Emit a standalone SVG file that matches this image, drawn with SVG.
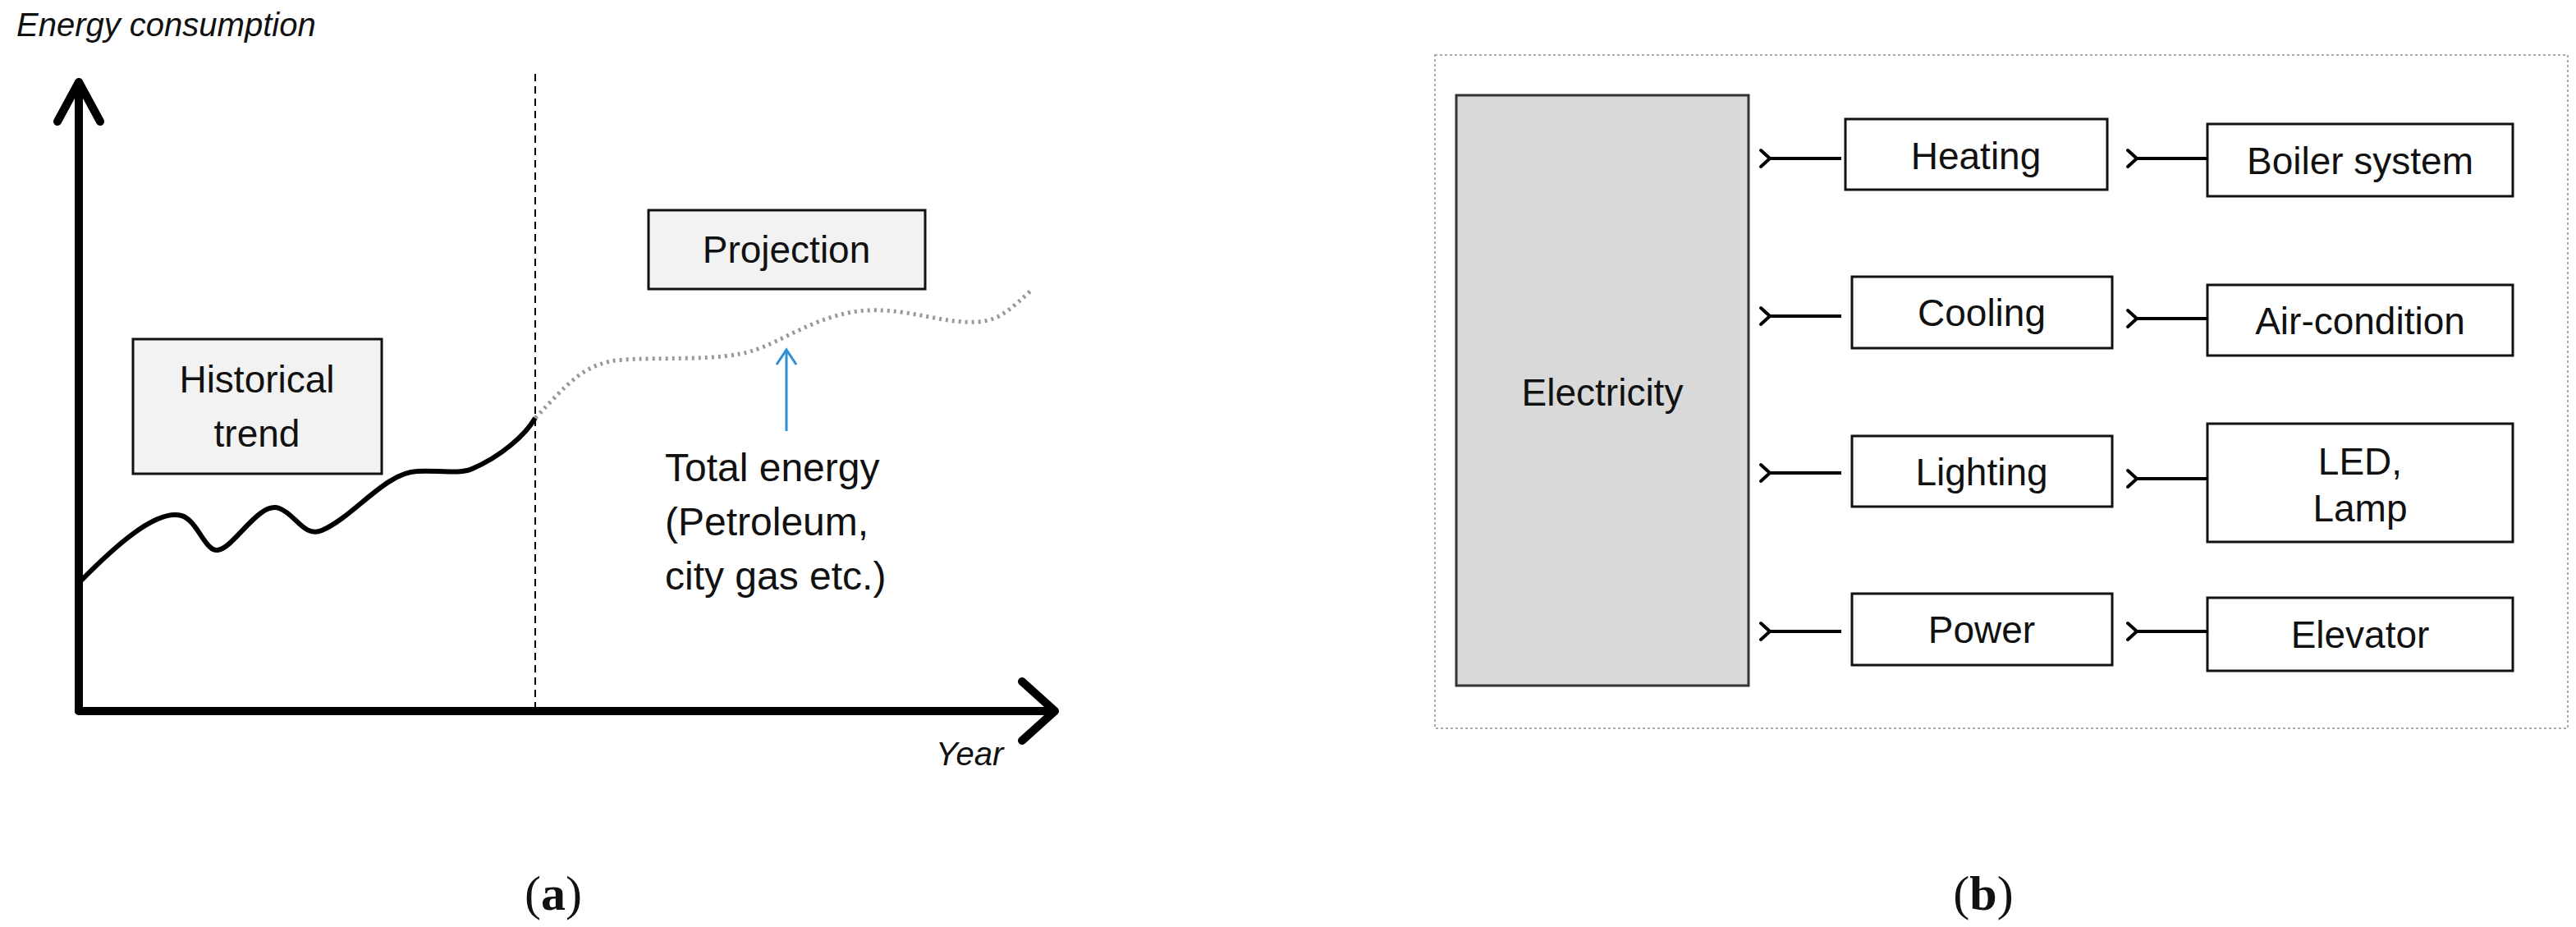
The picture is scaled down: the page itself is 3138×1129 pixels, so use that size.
<svg xmlns="http://www.w3.org/2000/svg" width="3138" height="1129" viewBox="0 0 3138 1129">
<style>
text{font-family:"Liberation Sans",Arial,sans-serif;fill:#111}
.box{fill:#fff;stroke:#111;stroke-width:3}
.gbox{fill:#f2f2f2;stroke:#111;stroke-width:3}
.lbl{font-size:46px;text-anchor:middle;dominant-baseline:central}
.ax{fill:none;stroke:#000;stroke-width:10;stroke-linecap:round;stroke-linejoin:round}
.arr{stroke:#000;stroke-width:4;fill:none}
.cap{font-family:"Liberation Serif",serif;font-size:60px;text-anchor:middle}
</style>
<defs>
<marker id="ah" markerWidth="12" markerHeight="12" refX="1" refY="6" orient="auto" markerUnits="userSpaceOnUse" viewBox="0 0 12 12" overflow="visible">
<path d="M12,-4 L1,6 L12,16" fill="none" stroke="#000" stroke-width="4" stroke-linecap="round"/>
</marker>
</defs>
<rect width="3138" height="1129" fill="#fff"/>
<g id="panel-a">
<text x="20" y="44" font-size="40" font-style="italic">Energy consumption</text>
<line x1="652" y1="90" x2="652" y2="864" stroke="#000" stroke-width="2" stroke-dasharray="9,6"/>
<path class="ax" d="M96,866 V100 M70,148 L96,100 L122,148"/>
<path class="ax" d="M96,866 H1282 M1245,830 L1285,866 L1245,902"/>
<text x="1140" y="932" font-size="40" font-style="italic">Year</text>
<path d="M96,710 C140,665 190,620 221,628 C240,633 250,672 265,670 C285,668 315,610 340,619 C360,626 370,655 392,646 C430,630 470,575 508,574 C530,572 560,578 575,571 C610,556 640,530 652,509" fill="none" stroke="#000" stroke-width="6"/>
<path d="M652,509 C690,470 710,441 760,438 C800,435 880,440 917,427 C950,418 1000,380 1058,378 C1110,376 1150,395 1192,392 C1220,390 1235,372 1257,353" fill="none" stroke="#999" stroke-width="5" stroke-dasharray="3,5"/>
<g id="historical"><rect class="gbox" x="162" y="413" width="303" height="164"/>
<text class="lbl" x="313" y="462" font-size="48">Historical</text><text class="lbl" x="313" y="528" font-size="48">trend</text></g>
<g id="projection"><rect class="gbox" x="790" y="256" width="337" height="96"/>
<text class="lbl" x="958" y="304" font-size="48">Projection</text></g>
<line x1="958" y1="525" x2="958" y2="428" stroke="#2e8fd6" stroke-width="3"/>
<path d="M946,444 L958,426 L970,444" fill="none" stroke="#2e8fd6" stroke-width="3"/>
<text font-size="48" x="810"><tspan x="810" y="586">Total energy</tspan><tspan x="810" y="652">(Petroleum,</tspan><tspan x="810" y="718">city gas etc.)</tspan></text>
<text class="cap" x="674" y="1108">(<tspan font-weight="bold">a</tspan>)</text>
</g>
<g id="panel-b">
<rect x="1748" y="67" width="1380" height="820" fill="none" stroke="#aaa" stroke-width="2" stroke-dasharray="3,3"/>
<g id="electricity"><rect x="1774" y="116" width="356" height="719" fill="#d9d9d9" stroke="#333" stroke-width="3"/>
<text class="lbl" x="1952" y="478" font-size="68">Electricity</text></g>
<g id="heating"><rect class="box" x="2248" y="145" width="319" height="86"/><text class="lbl" x="2407" y="190">Heating</text></g>
<g id="cooling"><rect class="box" x="2256" y="337" width="317" height="87"/><text class="lbl" x="2414" y="381">Cooling</text></g>
<g id="lighting"><rect class="box" x="2256" y="531" width="317" height="86"/><text class="lbl" x="2414" y="575">Lighting</text></g>
<g id="power"><rect class="box" x="2256" y="723" width="317" height="87"/><text class="lbl" x="2414" y="767">Power</text></g>
<g id="boiler"><rect class="box" x="2689" y="151" width="372" height="88"/><text class="lbl" x="2875" y="196">Boiler system</text></g>
<g id="aircon"><rect class="box" x="2689" y="347" width="372" height="86"/><text class="lbl" x="2875" y="391">Air-condition</text></g>
<g id="led"><rect class="box" x="2689" y="516" width="372" height="144"/><text class="lbl" x="2875" y="562">LED,</text><text class="lbl" x="2875" y="619">Lamp</text></g>
<g id="elevator"><rect class="box" x="2689" y="728" width="372" height="89"/><text class="lbl" x="2875" y="773">Elevator</text></g>
<g id="connectors">
<line class="arr" x1="2243" y1="193" x2="2156" y2="193" marker-end="url(#ah)"/>
<line class="arr" x1="2243" y1="385" x2="2156" y2="385" marker-end="url(#ah)"/>
<line class="arr" x1="2243" y1="576" x2="2156" y2="576" marker-end="url(#ah)"/>
<line class="arr" x1="2243" y1="769" x2="2156" y2="769" marker-end="url(#ah)"/>
<line class="arr" x1="2689" y1="193" x2="2603" y2="193" marker-end="url(#ah)"/>
<line class="arr" x1="2689" y1="388" x2="2603" y2="388" marker-end="url(#ah)"/>
<line class="arr" x1="2689" y1="583" x2="2603" y2="583" marker-end="url(#ah)"/>
<line class="arr" x1="2689" y1="769" x2="2603" y2="769" marker-end="url(#ah)"/>
</g>
<text class="cap" x="2416" y="1108">(<tspan font-weight="bold">b</tspan>)</text>
</g>
</svg>
